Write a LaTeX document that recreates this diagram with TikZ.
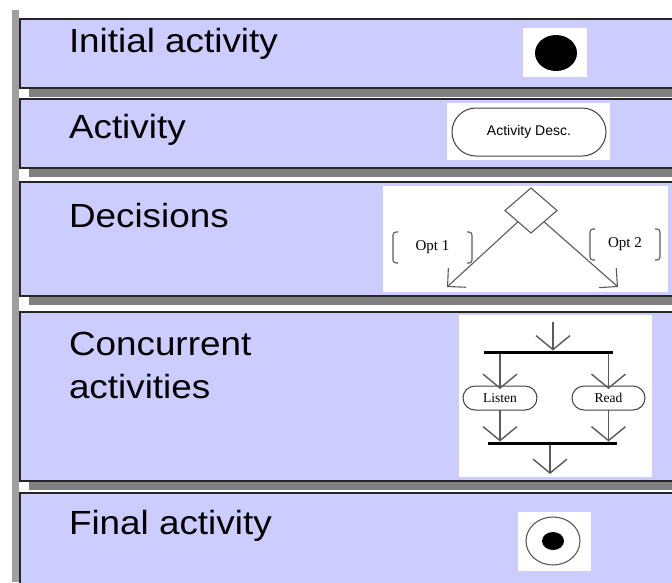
\documentclass[tikz,border=0pt]{standalone}
\usepackage{fontspec}
\setmainfont{Liberation Sans}
\newfontfamily\labfont[FakeStretch=1.1]{Liberation Sans}
\newfontfamily\serfont{Liberation Serif}
\usetikzlibrary{shapes.geometric,shapes.misc,arrows.meta}
\definecolor{lav}{HTML}{CCCCFF}
\definecolor{shadegray}{HTML}{808080}
\definecolor{bargray}{HTML}{A0A0A0}
\definecolor{linegray}{HTML}{5A5A5A}
\begin{document}
\begin{tikzpicture}[x=1pt,y=-1pt,
  panel/.style={fill=lav,draw=black!85,line width=1.3pt},
  shadowbox/.style={fill=shadegray},
  title/.style={font=\labfont\fontsize{33.5}{40}\selectfont,anchor=base west,inner sep=0pt,outer sep=0pt,text=black},
  picbg/.style={fill=white},
  stadium/.style={rounded rectangle,draw=black!75,line width=1pt,inner sep=0pt,outer sep=0pt},
  smallserif/.style={font=\serfont\fontsize{13.5}{15}\selectfont},
  bararrow/.style={draw=linegray,line width=1.4pt,-{Straight Barb[length=14pt,width=34pt,line width=1.4pt]}},
  decarrow/.style={draw=linegray,line width=1.1pt,-{Straight Barb[length=13pt,width=26pt,line width=1.1pt]}},
  forkbar/.style={fill=black,inner sep=0pt,outer sep=0pt,minimum height=3pt},
  guard/.style={font=\serfont\fontsize{15}{17}\selectfont,inner sep=0pt,outer sep=0pt},
  bracket/.style={draw=linegray,line width=1.1pt,rounded corners=3pt}
]
\useasboundingbox (0,0) rectangle (672,582);
\fill[white] (0,0) rectangle (672,582);
\clip (0,0) rectangle (672,582);
% left vertical bar
\fill[bargray] (12,10) rectangle (19,582);
% panels with shadows
\fill[shadowbox] (29,28) rectangle (709,97);
\path[panel] (20,19) rectangle (700,88);
\fill[shadowbox] (29,108) rectangle (709,177);
\path[panel] (20,99) rectangle (700,168);
\fill[shadowbox] (29,191) rectangle (709,305);
\path[panel] (20,182) rectangle (700,296);
\fill[shadowbox] (29,321) rectangle (709,490);
\path[panel] (20,312) rectangle (700,481);
\path[panel] (20,493) rectangle (700,620);

% titles
\node[title] (t1) at (69,52) {Initial activity};
\node[title] (t2) at (69,138) {Activity};
\node[title] (t3) at (69,227) {Decisions};
\node[title] (t4a) at (69,355) {Concurrent};
\node[title] (t4b) at (69,398) {activities};
\node[title] (t5) at (69,534) {Final activity};

% initial activity
\fill[picbg] (523,28) rectangle (587,77);
\fill[black] (556,53) ellipse [x radius=21, y radius=18];
\node[inner sep=0pt,minimum size=0pt] (init) at (556,53) {};

% activity
\fill[picbg] (447,103) rectangle (610,160);
\node[stadium,minimum width=154pt,minimum height=48pt,font=\fontsize{14}{16}\selectfont] (act) at (529,132) {Activity Desc.};

% decisions
\fill[picbg] (383,186) rectangle (668,292);
\node[diamond,draw=linegray,line width=1.1pt,minimum width=52pt,minimum height=45pt,inner sep=0pt,outer sep=0pt] (dec) at (531,210.5) {};
\coordinate (o1end) at (447,287);
\coordinate (o2end) at (618,287);
\draw[decarrow] (dec.south west) -- (o1end);
\draw[decarrow] (dec.south east) -- (o2end);
\node[guard,minimum width=79pt,minimum height=31pt] (opt1) at (432.5,247.5) {Opt 1};
\draw[bracket] ([xshift=5pt]opt1.north west) -| (opt1.south west) -- ++(5,0);
\draw[bracket] ([xshift=-5pt]opt1.north east) -| (opt1.south east) -- ++(-5,0);
\node[guard,minimum width=70pt,minimum height=31pt] (opt2) at (625,244.5) {Opt 2};
\draw[bracket] ([xshift=5pt]opt2.north west) -| (opt2.south west) -- ++(5,0);
\draw[bracket] ([xshift=-5pt]opt2.north east) -| (opt2.south east) -- ++(-5,0);

% concurrent activities
\fill[picbg] (459,315) rectangle (652,477);
\node[forkbar,minimum width=129pt] (fork) at (548.5,352) {};
\node[forkbar,minimum width=129pt] (join) at (552.5,443) {};
\node[stadium,minimum width=74pt,minimum height=24pt,smallserif] (listen) at (500,398) {Listen};
\node[stadium,minimum width=73pt,minimum height=24pt,smallserif] (read) at (608.5,398) {Read};
\coordinate (cin) at (553,322);
\coordinate (cout) at (550,474);
\draw[bararrow] (cin) -- (cin |- fork.north);
\draw[bararrow] (listen.north |- fork.south) -- ([yshift=-3pt]listen.north);
\draw[bararrow] (read.north |- fork.south) -- ([yshift=-3pt]read.north);
\draw[bararrow] (listen.south) -- (listen.south |- join.north);
\draw[bararrow] (read.south) -- (read.south |- join.north);
\draw[bararrow] (cout |- join.south) -- (cout);

% final activity
\fill[picbg] (518,512) rectangle (591,571);
\draw[linegray,line width=1.1pt] (553,541) ellipse [x radius=27, y radius=24];
\fill[black] (553,541) ellipse [x radius=11, y radius=9];
\node[inner sep=0pt,minimum size=0pt] (fin) at (553,541) {};
\end{tikzpicture}
\end{document}
